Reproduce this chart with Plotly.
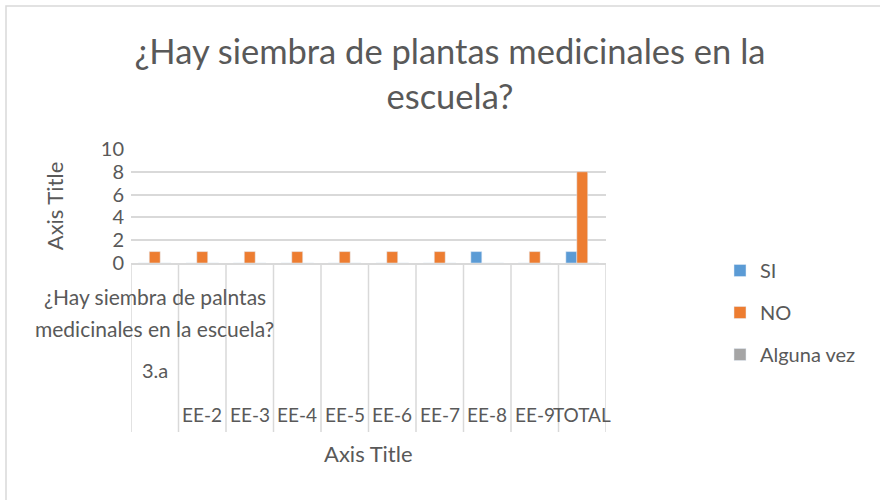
import plotly.graph_objects as go

# categories (bottom row labels) and the multi-level group labels
bottom_labels = ["", "EE-2", "EE-3", "EE-4", "EE-5", "EE-6", "EE-7", "EE-8", "EE-9", "TOTAL"]
group_label = "3.a"
question_lines = ["¿Hay siembra de palntas", "medicinales en la escuela?"]

si = [0, 0, 0, 0, 0, 0, 0, 1, 0, 1]
no = [1, 1, 1, 1, 1, 1, 1, 0, 1, 8]
alguna_vez = [0, 0, 0, 0, 0, 0, 0, 0, 0, 0]

FONT = "Lato, Calibri, sans-serif"
TEXT = "#595959"
GRID = "#d9d9d9"

W, H = 880, 500
L, R, T, B = 131, 274, 149, 237
PW, PH = W - L - R, H - T - B


def px_x(p):
    return (p - L) / PW


def px_y(p):
    return (H - B - p) / PH


xs = list(range(len(bottom_labels)))

fig = go.Figure()
fig.add_trace(go.Bar(x=xs, y=si, name="SI", marker_color="#5B9BD5", legendgroup="a"))
fig.add_trace(go.Bar(x=xs, y=no, name="NO", marker_color="#ED7D31", legendgroup="b"))
fig.add_trace(go.Bar(x=xs, y=alguna_vez, name="Alguna vez", marker_color="#A5A5A5", legendgroup="c"))

annotations = []
for i, lab in enumerate(bottom_labels):
    if lab:
        annotations.append(dict(x=i, xref="x", y=px_y(415), yref="paper", text=lab,
                                yanchor="middle", showarrow=False,
                                font=dict(size=19, color=TEXT)))
# wrapped inner-level label of the first category, one line at a time
for k, line in enumerate(question_lines):
    annotations.append(dict(x=0, xref="x", y=px_y(296 + 32 * k), yref="paper", text=line,
                            yanchor="middle", showarrow=False, font=dict(size=21, color=TEXT)))
annotations.append(dict(x=0, xref="x", y=px_y(370), yref="paper", text=group_label,
                        yanchor="middle", showarrow=False, font=dict(size=20, color=TEXT)))
annotations.append(dict(x=0.5, xref="paper", y=px_y(453), yref="paper", text="Axis Title",
                        yanchor="middle", showarrow=False, font=dict(size=22, color=TEXT)))

shapes = []
for i in range(len(bottom_labels) + 1):
    shapes.append(dict(type="line", xref="x", yref="paper", x0=i - 0.5, x1=i - 0.5,
                       y0=0, y1=px_y(432), line=dict(color=GRID, width=1.5)))
# chart border
shapes.append(dict(type="rect", xref="paper", yref="paper", x0=px_x(6), x1=px_x(W + 5),
                   y0=px_y(H + 5), y1=px_y(6), line=dict(color=GRID, width=1.5), layer="below"))

fig.update_layout(
    width=W, height=H,
    margin=dict(l=L, r=R, t=T, b=B),
    paper_bgcolor="white", plot_bgcolor="white",
    font=dict(family=FONT, color=TEXT),
    title=dict(text="¿Hay siembra de plantas medicinales en la<br>escuela?",
               x=450 / W, xanchor="center", y=1 - 64 / H, yanchor="middle",
               font=dict(size=34.5, color=TEXT)),
    barmode="group", bargap=0.31, bargroupgap=0,
    showlegend=True,
    legend=dict(x=px_x(720), y=px_y(251), xanchor="left", yanchor="top",
                font=dict(size=20, color=TEXT), tracegroupgap=13,
                itemwidth=30, maxheight=400),
    xaxis=dict(range=[-0.5, len(bottom_labels) - 0.5], showticklabels=False,
               showgrid=False, zeroline=False, showline=True, linecolor=GRID, linewidth=1.5,
               fixedrange=True),
    yaxis=dict(range=[0, 10], dtick=2, showgrid=True, gridcolor=GRID, gridwidth=1.5,
               zeroline=False, tickfont=dict(size=20, color=TEXT), ticks="",
               ticklabelstandoff=6,
               title=dict(text="Axis Title", font=dict(size=22, color=TEXT), standoff=31),
               fixedrange=True),
    annotations=annotations,
    shapes=shapes,
)

fig.write_html("out.html", config={"displayModeBar": False},
               post_script="document.body.style.margin='0px';")
